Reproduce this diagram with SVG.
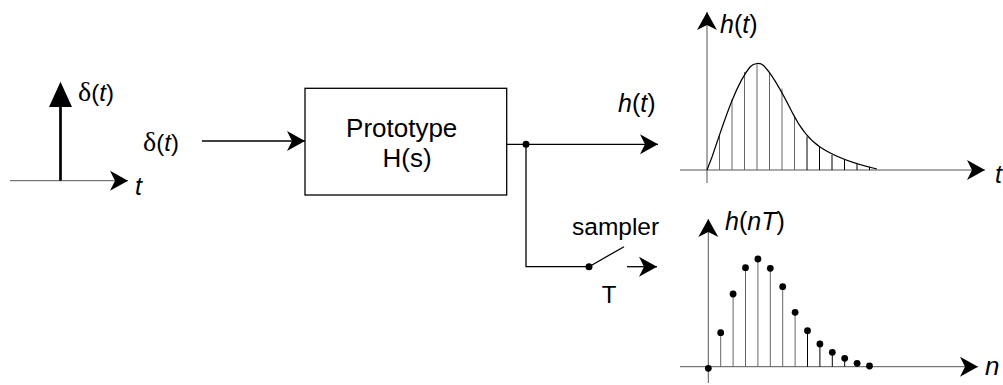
<svg xmlns="http://www.w3.org/2000/svg" width="1003" height="385" viewBox="0 0 1003 385">
<style>
text{font-family:"Liberation Sans",Arial,sans-serif;fill:#000}
.sym{font-family:"Liberation Serif","Times New Roman",serif;font-size:28px}
.it{font-style:italic}
.wire{stroke:#000;stroke-width:1.3;fill:none}
.axis{stroke:#555;stroke-width:1;fill:none}
.stemg{stroke:#666;stroke-width:1}
.stemb{stroke:#000;stroke-width:1}
</style>
<defs>
<marker id="arr" viewBox="-20 -11 22 22" refX="0" refY="0" markerWidth="22" markerHeight="22" markerUnits="userSpaceOnUse" orient="auto">
<path d="M0,0 L-18,-10 L-13,0 L-18,10 Z" fill="#000"/>
</marker>
</defs>
<rect width="1003" height="385" fill="#fff"/>

<g id="impulse">
<line class="axis" x1="10" y1="180.7" x2="128" y2="180.7" marker-end="url(#arr)"/>
<line x1="60.5" y1="180.7" x2="60.5" y2="105" stroke="#000" stroke-width="2.7"/>
<polygon points="60.5,81.7 49,107 72,107" fill="#000"/>
<text x="78" y="101" font-size="24"><tspan class="sym">δ</tspan>(<tspan class="it">t</tspan>)</text>
<text x="135" y="195" font-size="25" class="it">t</text>
</g>

<g id="input-label">
<text x="143" y="151" font-size="24"><tspan class="sym">δ</tspan>(<tspan class="it">t</tspan>)</text>
</g>

<g id="prototype">
<rect x="305" y="88.3" width="201.7" height="106.7" fill="#fff" stroke="#000" stroke-width="1.3"/>
<text x="401.7" y="137" font-size="26" text-anchor="middle">Prototype</text>
<text x="407" y="167" font-size="26" text-anchor="middle">H(s)</text>
</g>

<g id="connectors">
<line class="wire" x1="202" y1="141" x2="305" y2="141" marker-end="url(#arr)"/>
<line class="wire" x1="506.7" y1="144.3" x2="658" y2="144.3" marker-end="url(#arr)"/>
<polyline class="wire" points="526,144.3 526,266.7 589,266.7"/>
<line class="wire" x1="589" y1="266.7" x2="624" y2="246.7"/>
<line class="wire" x1="627" y1="266.7" x2="657" y2="266.7" marker-end="url(#arr)"/>
<circle cx="526" cy="144.3" r="3.5" fill="#000"/>
<circle cx="589" cy="266.7" r="3.5" fill="#000"/>
</g>

<g id="output-label">
<text x="618" y="112" font-size="25" class="it">h<tspan font-style="normal">(</tspan>t<tspan font-style="normal">)</tspan></text>
</g>

<g id="sampler">
<text x="572" y="235" font-size="24.5">sampler</text>
<text x="609" y="303" font-size="24" text-anchor="middle">T</text>
</g>

<g id="plot-continuous">
<line class="axis" x1="680" y1="170" x2="985" y2="170" marker-end="url(#arr)"/>
<line class="axis" x1="707" y1="183" x2="707" y2="12" marker-end="url(#arr)"/>
<g class="stemg">
<line x1="719.5" y1="170" x2="719.5" y2="134"/>
<line x1="732" y1="170" x2="732" y2="99"/>
<line x1="744.5" y1="170" x2="744.5" y2="72"/>
<line x1="757" y1="170" x2="757" y2="63.5"/>
<line x1="769.5" y1="170" x2="769.5" y2="72"/>
<line x1="782" y1="170" x2="782" y2="88.5"/>
<line x1="794.5" y1="170" x2="794.5" y2="117"/>
</g>
<g class="stemb">
<line x1="807" y1="170" x2="807" y2="136.5"/>
<line x1="819.5" y1="170" x2="819.5" y2="146.7"/>
<line x1="832" y1="170" x2="832" y2="155"/>
<line x1="844.5" y1="170" x2="844.5" y2="160"/>
<line x1="857" y1="170" x2="857" y2="164"/>
<line x1="869.5" y1="170" x2="869.5" y2="166.7"/>
</g>
<path d="M707,170 L712,157 C722,128 735,85 750,67 C754,63 760,62 764,66 C772,74 782,92 792,112 C800,128 808,139 820,147 C835,157 855,164 877,169" fill="none" stroke="#000" stroke-width="1.2"/>
<text x="720" y="33" font-size="25" class="it">h<tspan font-style="normal">(</tspan>t<tspan font-style="normal">)</tspan></text>
<text x="995" y="183" font-size="25" class="it">t</text>
</g>

<g id="plot-sampled">
<line class="axis" x1="680" y1="366.7" x2="978" y2="366.7" marker-end="url(#arr)"/>
<line class="axis" x1="708.3" y1="383" x2="708.3" y2="219" marker-end="url(#arr)"/>
<g class="stemg">
<line x1="720.7" y1="366.7" x2="720.7" y2="332.7"/>
<line x1="733.1" y1="366.7" x2="733.1" y2="294"/>
<line x1="745.5" y1="366.7" x2="745.5" y2="267.7"/>
<line x1="757.9" y1="366.7" x2="757.9" y2="259"/>
<line x1="770.3" y1="366.7" x2="770.3" y2="268.3"/>
<line x1="782.7" y1="366.7" x2="782.7" y2="286.7"/>
<line x1="795.1" y1="366.7" x2="795.1" y2="312.3"/>
</g>
<g class="stemb">
<line x1="807.5" y1="366.7" x2="807.5" y2="330.7"/>
<line x1="819.9" y1="366.7" x2="819.9" y2="344"/>
<line x1="832.3" y1="366.7" x2="832.3" y2="352.3"/>
<line x1="844.7" y1="366.7" x2="844.7" y2="358.3"/>
<line x1="857.1" y1="366.7" x2="857.1" y2="363.3"/>
</g>
<g fill="#000">
<circle cx="708.3" cy="368.3" r="3.4"/>
<circle cx="720.7" cy="332.7" r="3.4"/>
<circle cx="733.1" cy="294" r="3.4"/>
<circle cx="745.5" cy="267.7" r="3.4"/>
<circle cx="757.9" cy="259" r="3.4"/>
<circle cx="770.3" cy="268.3" r="3.4"/>
<circle cx="782.7" cy="286.7" r="3.4"/>
<circle cx="795.1" cy="312.3" r="3.4"/>
<circle cx="807.5" cy="330.7" r="3.4"/>
<circle cx="819.9" cy="344" r="3.4"/>
<circle cx="832.3" cy="352.3" r="3.4"/>
<circle cx="844.7" cy="358.3" r="3.4"/>
<circle cx="857.1" cy="363.3" r="3.4"/>
<circle cx="869.5" cy="366" r="3.4"/>
</g>
<text x="725" y="230" font-size="25" class="it">h<tspan font-style="normal">(</tspan>nT<tspan font-style="normal">)</tspan></text>
<text x="985" y="375" font-size="26" class="it">n</text>
</g>
</svg>
